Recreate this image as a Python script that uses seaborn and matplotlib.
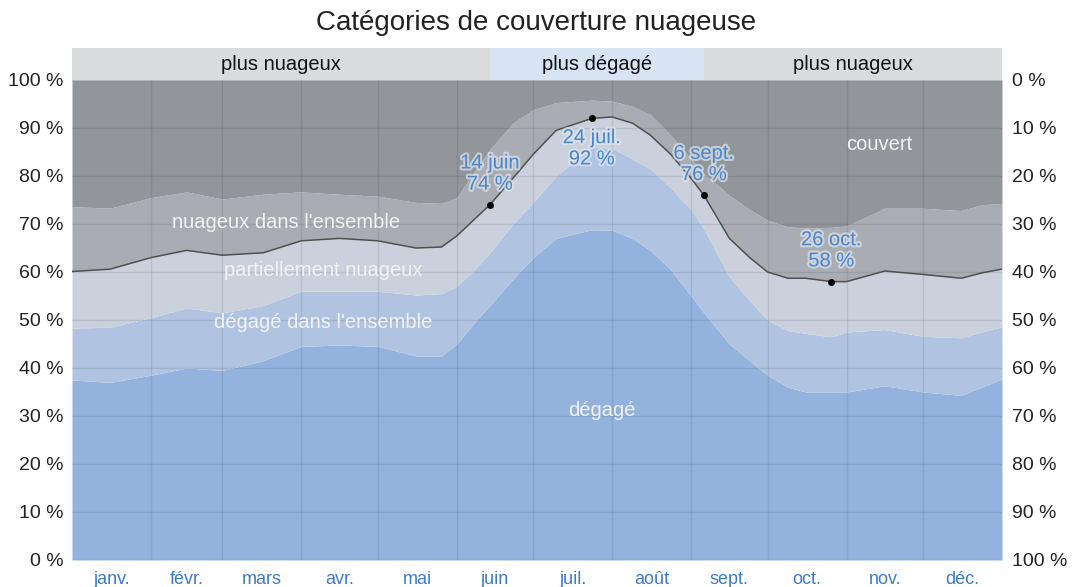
import numpy as np
import pandas as pd
import seaborn as sns
import matplotlib.pyplot as plt
import matplotlib.patheffects as pe

# day of year (0 = 1 janv.) and top boundary of each cloud category (%)
days = [0, 15, 31, 45, 59, 75, 90, 105, 120, 135, 145, 151, 158, 164, 173, 181, 190,
        204, 212, 220, 227, 235, 243, 248, 258, 266, 273, 281, 288, 298, 304, 319,
        334, 349, 357, 365]
clear = [37.5, 37.0, 38.5, 40.0, 39.5, 41.5, 44.5, 44.8, 44.5, 42.5, 42.5, 45.0, 49.5,
         53.0, 58.5, 63.0, 67.0, 68.8, 68.7, 67.0, 64.5, 60.5, 55.0, 51.5, 45.0, 41.5,
         38.5, 36.0, 35.0, 35.0, 35.0, 36.3, 35.0, 34.3, 36.0, 37.7]
mostly_clear = [48.3, 48.5, 50.5, 52.5, 51.5, 53.0, 56.0, 56.0, 56.0, 55.2, 55.5, 57.0,
                60.5, 64.0, 70.0, 74.5, 80.0, 86.0, 85.8, 83.5, 81.5, 77.5, 73.0, 69.0,
                59.0, 54.0, 50.0, 47.8, 47.2, 46.5, 47.5, 48.0, 46.6, 46.3, 47.5, 48.6]
partly_cloudy = [60.1, 60.6, 63.0, 64.5, 63.5, 64.0, 66.5, 67.0, 66.5, 65.0, 65.2, 67.5,
                 71.0, 74.0, 79.5, 84.5, 89.5, 92.0, 92.3, 91.0, 88.5, 84.5, 79.5, 76.0,
                 67.0, 63.0, 60.0, 58.7, 58.7, 58.0, 58.0, 60.2, 59.5, 58.7, 59.8, 60.6]
mostly_cloudy = [73.6, 73.3, 75.5, 76.7, 75.2, 76.2, 76.7, 76.2, 75.8, 74.5, 74.3, 75.5,
                 81.0, 85.5, 91.0, 93.8, 95.3, 95.8, 95.6, 94.5, 92.8, 88.5, 83.5, 80.5,
                 76.0, 73.0, 70.8, 69.4, 69.2, 69.3, 69.6, 73.3, 73.3, 72.8, 74.0, 74.3]

month_starts = [0, 31, 59, 90, 120, 151, 181, 212, 243, 273, 304, 334, 365]
month_labels = ["janv.", "févr.", "mars", "avr.", "mai", "juin", "juil.", "août",
                "sept.", "oct.", "nov.", "déc."]

ann_days = [164, 204, 248, 298]
ann_vals = [74, 92, 76, 58]
ann_text = ["14 juin\n74 %", "24 juil.\n92 %", "6 sept.\n76 %", "26 oct.\n58 %"]
ann_above = [True, False, True, True]

season_bounds = [0, 164, 248, 365]
season_labels = ["plus nuageux", "plus dégagé", "plus nuageux"]

df = pd.DataFrame({"day": days, "clear": clear, "mostly_clear": mostly_clear,
                   "partly_cloudy": partly_cloudy, "mostly_cloudy": mostly_cloudy})

sns.set_theme(style="white")
plt.rcParams["font.family"] = ["Liberation Sans", "DejaVu Sans"]

fig = plt.figure(figsize=(10.72, 5.87), dpi=100)
ax = fig.add_axes([72 / 1072, 27 / 587, 930 / 1072, 480 / 587])
band = fig.add_axes([72 / 1072, 507 / 587, 930 / 1072, 32 / 587])

top = np.full(len(days), 100.0)
layers = [(0, df.clear, "#93b2dd"),
          (df.clear, df.mostly_clear, "#b0c4e1"),
          (df.mostly_clear, df.partly_cloudy, "#cad1dc"),
          (df.partly_cloudy, df.mostly_cloudy, "#a9acb2"),
          (df.mostly_cloudy, top, "#929599")]
for lo, hi, c in layers:
    ax.fill_between(df.day, lo, hi, color=c, lw=0, zorder=1)

sns.lineplot(data=df, x="day", y="partly_cloudy", color="#505050", lw=1.1, ax=ax, zorder=3)

ax.set_xlim(0, 365)
ax.set_ylim(0, 100)
ax.set_xlabel("")
ax.set_ylabel("")
ax.set_yticks(range(0, 101, 10))
ax.set_yticklabels([f"{v} %" for v in range(0, 101, 10)], fontsize=14, color="#222222")
ax.set_xticks(month_starts[1:-1])
ax.set_xticklabels([])
ax.set_xticks([(a + b) / 2 for a, b in zip(month_starts[:-1], month_starts[1:])], minor=True)
ax.set_xticklabels(month_labels, minor=True, fontsize=13, color="#3f7bc4")
ax.tick_params(axis="x", which="both", length=0, pad=8)
ax.tick_params(axis="y", length=0, pad=6)
ax.grid(True, color="#1e2a3a", alpha=0.11, lw=1.0)
ax.set_axisbelow(False)
for s in ax.spines.values():
    s.set_visible(False)

ax2 = ax.twinx()
ax2.set_ylim(100, 0)
ax2.set_yticks(range(0, 101, 10))
ax2.set_yticklabels([f"{v} %" for v in range(0, 101, 10)], fontsize=14, color="#222222")
ax2.tick_params(axis="y", length=0, pad=7)
for s in ax2.spines.values():
    s.set_visible(False)

# annotated points
ax.scatter(ann_days, ann_vals, s=16, color="black", zorder=5)
for d, v, t, up in zip(ann_days, ann_vals, ann_text, ann_above):
    ax.annotate(t, (d, v), xytext=(0, 8 if up else -7), textcoords="offset points",
                ha="center", va="bottom" if up else "top", fontsize=14.5,
                color="#4d86c6", linespacing=1.15, zorder=6,
                path_effects=[pe.withStroke(linewidth=3, foreground="#dfe5ee", alpha=0.7)])

# category labels
labels = [(317, 86.5, "couvert"), (84, 70.4, "nuageux dans l'ensemble"),
          (98.5, 60.4, "partiellement nuageux"), (98.5, 49.4, "dégagé dans l'ensemble"),
          (208, 31.2, "dégagé")]
for x, y, t in labels:
    ax.text(x, y, t, ha="center", va="center", fontsize=14.5, color="#f2f2f2", zorder=4)

# season band
band.set_xlim(0, 365)
band.set_ylim(0, 1)
for i, lab in enumerate(season_labels):
    a, b = season_bounds[i], season_bounds[i + 1]
    band.axvspan(a, b, color="#d8e3f4" if lab == "plus dégagé" else "#dadbdd", lw=0)
    band.text((a + b) / 2, 0.5, lab, ha="center", va="center", fontsize=14.5, color="#111111")
band.axis("off")

fig.text(0.5, 1 - 23 / 587, "Catégories de couverture nuageuse", ha="center", va="center",
         fontsize=20, color="#222222")

fig.savefig("out.png", dpi=100)
